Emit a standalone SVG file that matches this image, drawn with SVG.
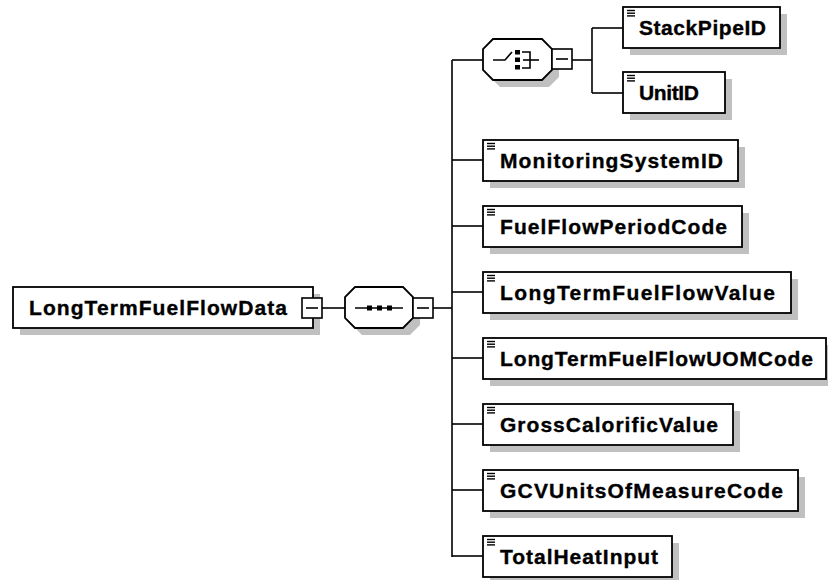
<svg xmlns="http://www.w3.org/2000/svg" xmlns:xlink="http://www.w3.org/1999/xlink" width="828" height="580" viewBox="0 0 828 580">
<style>
.bg{fill:#ffffff}
.sh{fill:#c0c0c0;stroke:none}
.box{fill:#ffffff;stroke:#000000;stroke-width:1.8}
.ln{fill:none;stroke:#000000;stroke-width:1.6}
.pm{fill:#ffffff;stroke:#000000;stroke-width:1.6}
.t{font-family:"Liberation Sans",Arial,sans-serif;font-weight:bold;font-size:21px;fill:#000000;stroke:#000000;stroke-width:0.35}
.ic{stroke:#000000;stroke-width:1.4}
</style>
<defs>
<g id="ico">
<line class="ic" x1="4" y1="3.5" x2="12" y2="3.5"/>
<line class="ic" x1="4" y1="6.2" x2="12" y2="6.2"/>
<line class="ic" x1="4" y1="8.9" x2="12" y2="8.9"/>
</g>
<g id="minus">
<rect class="pm" x="0" y="0" width="20" height="20"/>
<line class="ln" x1="4" y1="10" x2="16" y2="10"/>
</g>
</defs>
<rect class="bg" x="0" y="0" width="828" height="580"/>

<g id="connectors">
<line class="ln" x1="322" y1="308" x2="345" y2="308"/>
<line class="ln" x1="433" y1="308" x2="452" y2="308"/>
<line class="ln" x1="452" y1="60" x2="452" y2="557"/>
<line class="ln" x1="452" y1="60" x2="483" y2="60"/>
<line class="ln" x1="452" y1="160" x2="483" y2="160"/>
<line class="ln" x1="452" y1="226" x2="483" y2="226"/>
<line class="ln" x1="452" y1="292" x2="483" y2="292"/>
<line class="ln" x1="452" y1="358" x2="483" y2="358"/>
<line class="ln" x1="452" y1="424" x2="483" y2="424"/>
<line class="ln" x1="452" y1="490" x2="483" y2="490"/>
<line class="ln" x1="452" y1="556" x2="483" y2="556"/>
<line class="ln" x1="572" y1="60" x2="592" y2="60"/>
<line class="ln" x1="592" y1="28" x2="592" y2="93"/>
<line class="ln" x1="592" y1="28" x2="623" y2="28"/>
<line class="ln" x1="592" y1="93" x2="623" y2="93"/>
</g>

<g id="LongTermFuelFlowData">
<rect class="sh" x="20" y="294" width="300" height="41"/>
<rect class="box" x="13" y="287" width="300" height="41"/>
<text class="t" x="29" y="315" textLength="258" lengthAdjust="spacing">LongTermFuelFlowData</text>
<use href="#minus" x="302" y="298"/>
</g>

<g id="sequence">
<polygon class="sh" points="362,294 410,294 420,304 420,325 410,335 362,335 352,325 352,304"/>
<polygon class="box" points="355,287 403,287 413,297 413,318 403,328 355,328 345,318 345,297"/>
<line class="ln" x1="355" y1="308" x2="403" y2="308"/>
<rect x="367" y="305.5" width="5" height="5" fill="#000"/>
<rect x="377" y="305.5" width="5" height="5" fill="#000"/>
<rect x="387" y="305.5" width="5" height="5" fill="#000"/>
<use href="#minus" x="413" y="298"/>
</g>

<g id="choice">
<polygon class="sh" points="500,46 549,46 559,56 559,77 549,87 500,87 490,77 490,56"/>
<polygon class="box" points="493,39 542,39 552,49 552,70 542,80 493,80 483,70 483,49"/>
<polyline class="ln" points="493,60 505,60 512,52"/>
<rect x="515" y="50" width="5" height="4.5" fill="#000"/>
<rect x="515" y="57.5" width="5" height="4.5" fill="#000"/>
<rect x="515" y="65" width="5" height="4.5" fill="#000"/>
<polyline class="ln" points="522,52 530,52 530,68 522,68"/>
<line class="ln" x1="523" y1="60" x2="539" y2="60"/>
<use href="#minus" x="552" y="49"/>
</g>

<g id="StackPipeID">
<rect class="sh" x="630" y="14" width="157" height="41"/>
<rect class="box" x="623" y="7" width="157" height="41"/>
<use href="#ico" x="623" y="7"/>
<text class="t" x="639" y="35" textLength="127" lengthAdjust="spacing">StackPipeID</text>
</g>

<g id="UnitID">
<rect class="sh" x="630" y="79" width="102" height="41"/>
<rect class="box" x="623" y="72" width="102" height="41"/>
<use href="#ico" x="623" y="72"/>
<text class="t" x="639" y="100" textLength="60" lengthAdjust="spacing">UnitID</text>
</g>

<g id="MonitoringSystemID">
<rect class="sh" x="490" y="147" width="255" height="41"/>
<rect class="box" x="483" y="140" width="255" height="41"/>
<use href="#ico" x="483" y="140"/>
<text class="t" x="500" y="168" textLength="223" lengthAdjust="spacing">MonitoringSystemID</text>
</g>

<g id="FuelFlowPeriodCode">
<rect class="sh" x="490" y="213" width="259" height="41"/>
<rect class="box" x="483" y="206" width="259" height="41"/>
<use href="#ico" x="483" y="206"/>
<text class="t" x="500" y="234" textLength="227" lengthAdjust="spacing">FuelFlowPeriodCode</text>
</g>

<g id="LongTermFuelFlowValue">
<rect class="sh" x="490" y="279" width="308" height="41"/>
<rect class="box" x="483" y="272" width="308" height="41"/>
<use href="#ico" x="483" y="272"/>
<text class="t" x="500" y="300" textLength="275" lengthAdjust="spacing">LongTermFuelFlowValue</text>
</g>

<g id="LongTermFuelFlowUOMCode">
<rect class="sh" x="490" y="345" width="343" height="41"/>
<rect class="box" x="483" y="338" width="343" height="41"/>
<use href="#ico" x="483" y="338"/>
<text class="t" x="500" y="366" textLength="313" lengthAdjust="spacing">LongTermFuelFlowUOMCode</text>
</g>

<g id="GrossCalorificValue">
<rect class="sh" x="490" y="411" width="250" height="41"/>
<rect class="box" x="483" y="404" width="250" height="41"/>
<use href="#ico" x="483" y="404"/>
<text class="t" x="500" y="432" textLength="218" lengthAdjust="spacing">GrossCalorificValue</text>
</g>

<g id="GCVUnitsOfMeasureCode">
<rect class="sh" x="490" y="477" width="315" height="41"/>
<rect class="box" x="483" y="470" width="315" height="41"/>
<use href="#ico" x="483" y="470"/>
<text class="t" x="500" y="498" textLength="283" lengthAdjust="spacing">GCVUnitsOfMeasureCode</text>
</g>

<g id="TotalHeatInput">
<rect class="sh" x="490" y="543" width="189" height="41"/>
<rect class="box" x="483" y="536" width="189" height="41"/>
<use href="#ico" x="483" y="536"/>
<text class="t" x="500" y="564" textLength="158" lengthAdjust="spacing">TotalHeatInput</text>
</g>
</svg>
